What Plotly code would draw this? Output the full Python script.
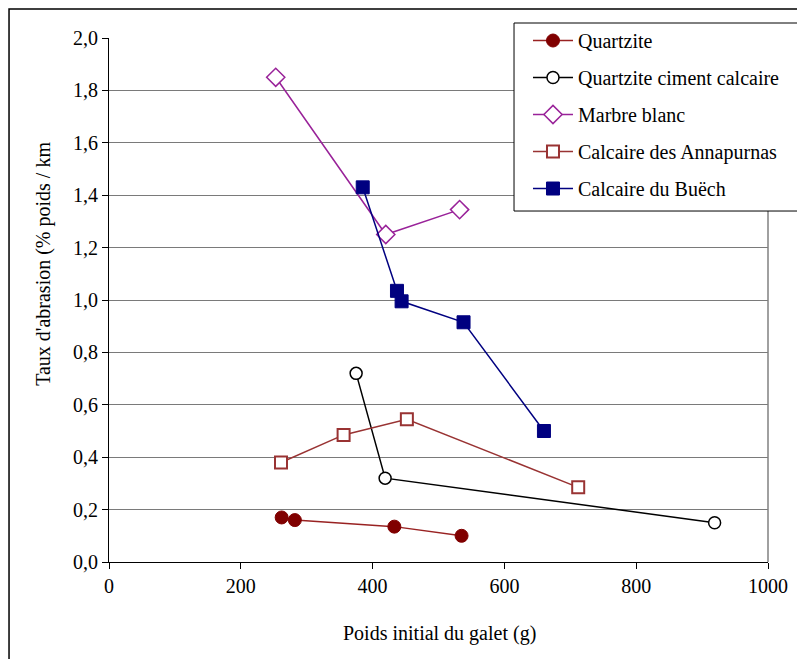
import plotly.graph_objects as go

# Data
quartzite_x = [262, 282, 433, 535]
quartzite_y = [0.17, 0.16, 0.135, 0.10]

qcc_x = [375, 419, 919]
qcc_y = [0.72, 0.32, 0.15]

marbre_x = [253, 420, 532]
marbre_y = [1.85, 1.25, 1.345]

annap_x = [261, 356, 452, 712]
annap_y = [0.38, 0.485, 0.545, 0.285]

buech_x = [385, 437, 444, 538, 660]
buech_y = [1.43, 1.035, 0.995, 0.915, 0.50]

series_names = ["Quartzite", "Quartzite ciment calcaire", "Marbre blanc",
                "Calcaire des Annapurnas", "Calcaire du Buëch"]

x_ticks = [0, 200, 400, 600, 800, 1000]
y_ticks = [0.0, 0.2, 0.4, 0.6, 0.8, 1.0, 1.2, 1.4, 1.6, 1.8, 2.0]

FONT = "Liberation Serif"
FS = 20

fig = go.Figure()

fig.add_trace(go.Scatter(
    x=quartzite_x, y=quartzite_y, name=series_names[0], mode="lines+markers",
    legendgroup="a",
    line=dict(color="#992222", width=1.5),
    marker=dict(symbol="circle", size=13, color="#800000",
                line=dict(color="#800000", width=1))))

fig.add_trace(go.Scatter(
    x=qcc_x, y=qcc_y, name=series_names[1], mode="lines+markers",
    legendgroup="b",
    line=dict(color="#000000", width=1.5),
    marker=dict(symbol="circle", size=12, color="#ffffff",
                line=dict(color="#000000", width=1.5))))

fig.add_trace(go.Scatter(
    x=marbre_x, y=marbre_y, name=series_names[2], mode="lines+markers",
    legendgroup="c",
    line=dict(color="#992299", width=1.5),
    marker=dict(symbol="diamond", size=14, color="#ffffff",
                line=dict(color="#992299", width=1.5))))

fig.add_trace(go.Scatter(
    x=annap_x, y=annap_y, name=series_names[3], mode="lines+markers",
    legendgroup="d",
    line=dict(color="#993333", width=1.5),
    marker=dict(symbol="square", size=12, color="#ffffff",
                line=dict(color="#993333", width=2))))

fig.add_trace(go.Scatter(
    x=buech_x, y=buech_y, name=series_names[4], mode="lines+markers",
    legendgroup="e",
    line=dict(color="#000080", width=1.5),
    marker=dict(symbol="square", size=13, color="#000080",
                line=dict(color="#000080", width=1))))

fig.update_layout(
    width=797, height=651,
    margin=dict(l=101, r=37, t=30, b=97),
    paper_bgcolor="#ffffff", plot_bgcolor="#ffffff",
    separators=", ",
    font=dict(family=FONT, size=FS, color="#000000"),
    showlegend=True,
    legend=dict(
        x=0.6358, y=1.0324, xanchor="left", yanchor="top",
        bgcolor="rgba(0,0,0,0)", borderwidth=0,
        font=dict(family=FONT, size=FS, color="#000000"),
        tracegroupgap=8, itemwidth=40,
    ),
    xaxis=dict(
        range=[0, 1000], tickvals=x_ticks, showgrid=False, zeroline=False,
        showline=True, linecolor="#000000", linewidth=1,
        ticks="outside", ticklen=6, tickcolor="#000000",
        tickfont=dict(family=FONT, size=FS),
    ),
    yaxis=dict(
        range=[0, 2.0], tickvals=y_ticks, tickformat=".1f",
        showgrid=True, gridcolor="#7a7a7a", gridwidth=1, zeroline=False,
        showline=True, linecolor="#000000", linewidth=1,
        ticks="outside", ticklen=6, tickcolor="#000000",
        tickfont=dict(family=FONT, size=FS),
    ),
    shapes=[
        dict(type="line", xref="paper", yref="paper", x0=1, x1=1, y0=0, y1=1,
             line=dict(color="#808080", width=1.5)),
        dict(type="rect", xref="paper", yref="paper",
             x0=-0.1517, x1=1.2, y0=-0.3, y1=1.0555,
             line=dict(color="#000000", width=1.5), layer="below"),
        # legend frame
        dict(type="rect", xref="paper", yref="paper",
             x0=0.6146, x1=1.0516, y0=0.6698, y1=1.0286,
             fillcolor="#ffffff", line=dict(color="#000000", width=1),
             layer="above"),
    ],
    annotations=[
        dict(text="Poids initial du galet (g)", xref="paper", yref="paper",
             x=0.5015, y=-0.137, xanchor="center", yanchor="middle",
             showarrow=False, font=dict(family=FONT, size=FS)),
        dict(text="Taux d'abrasion (% poids / km", xref="paper", yref="paper",
             x=-0.0986, y=0.569, xanchor="center", yanchor="middle",
             textangle=-90, showarrow=False, font=dict(family=FONT, size=FS)),
    ],
)

fig.write_html("out.html")
